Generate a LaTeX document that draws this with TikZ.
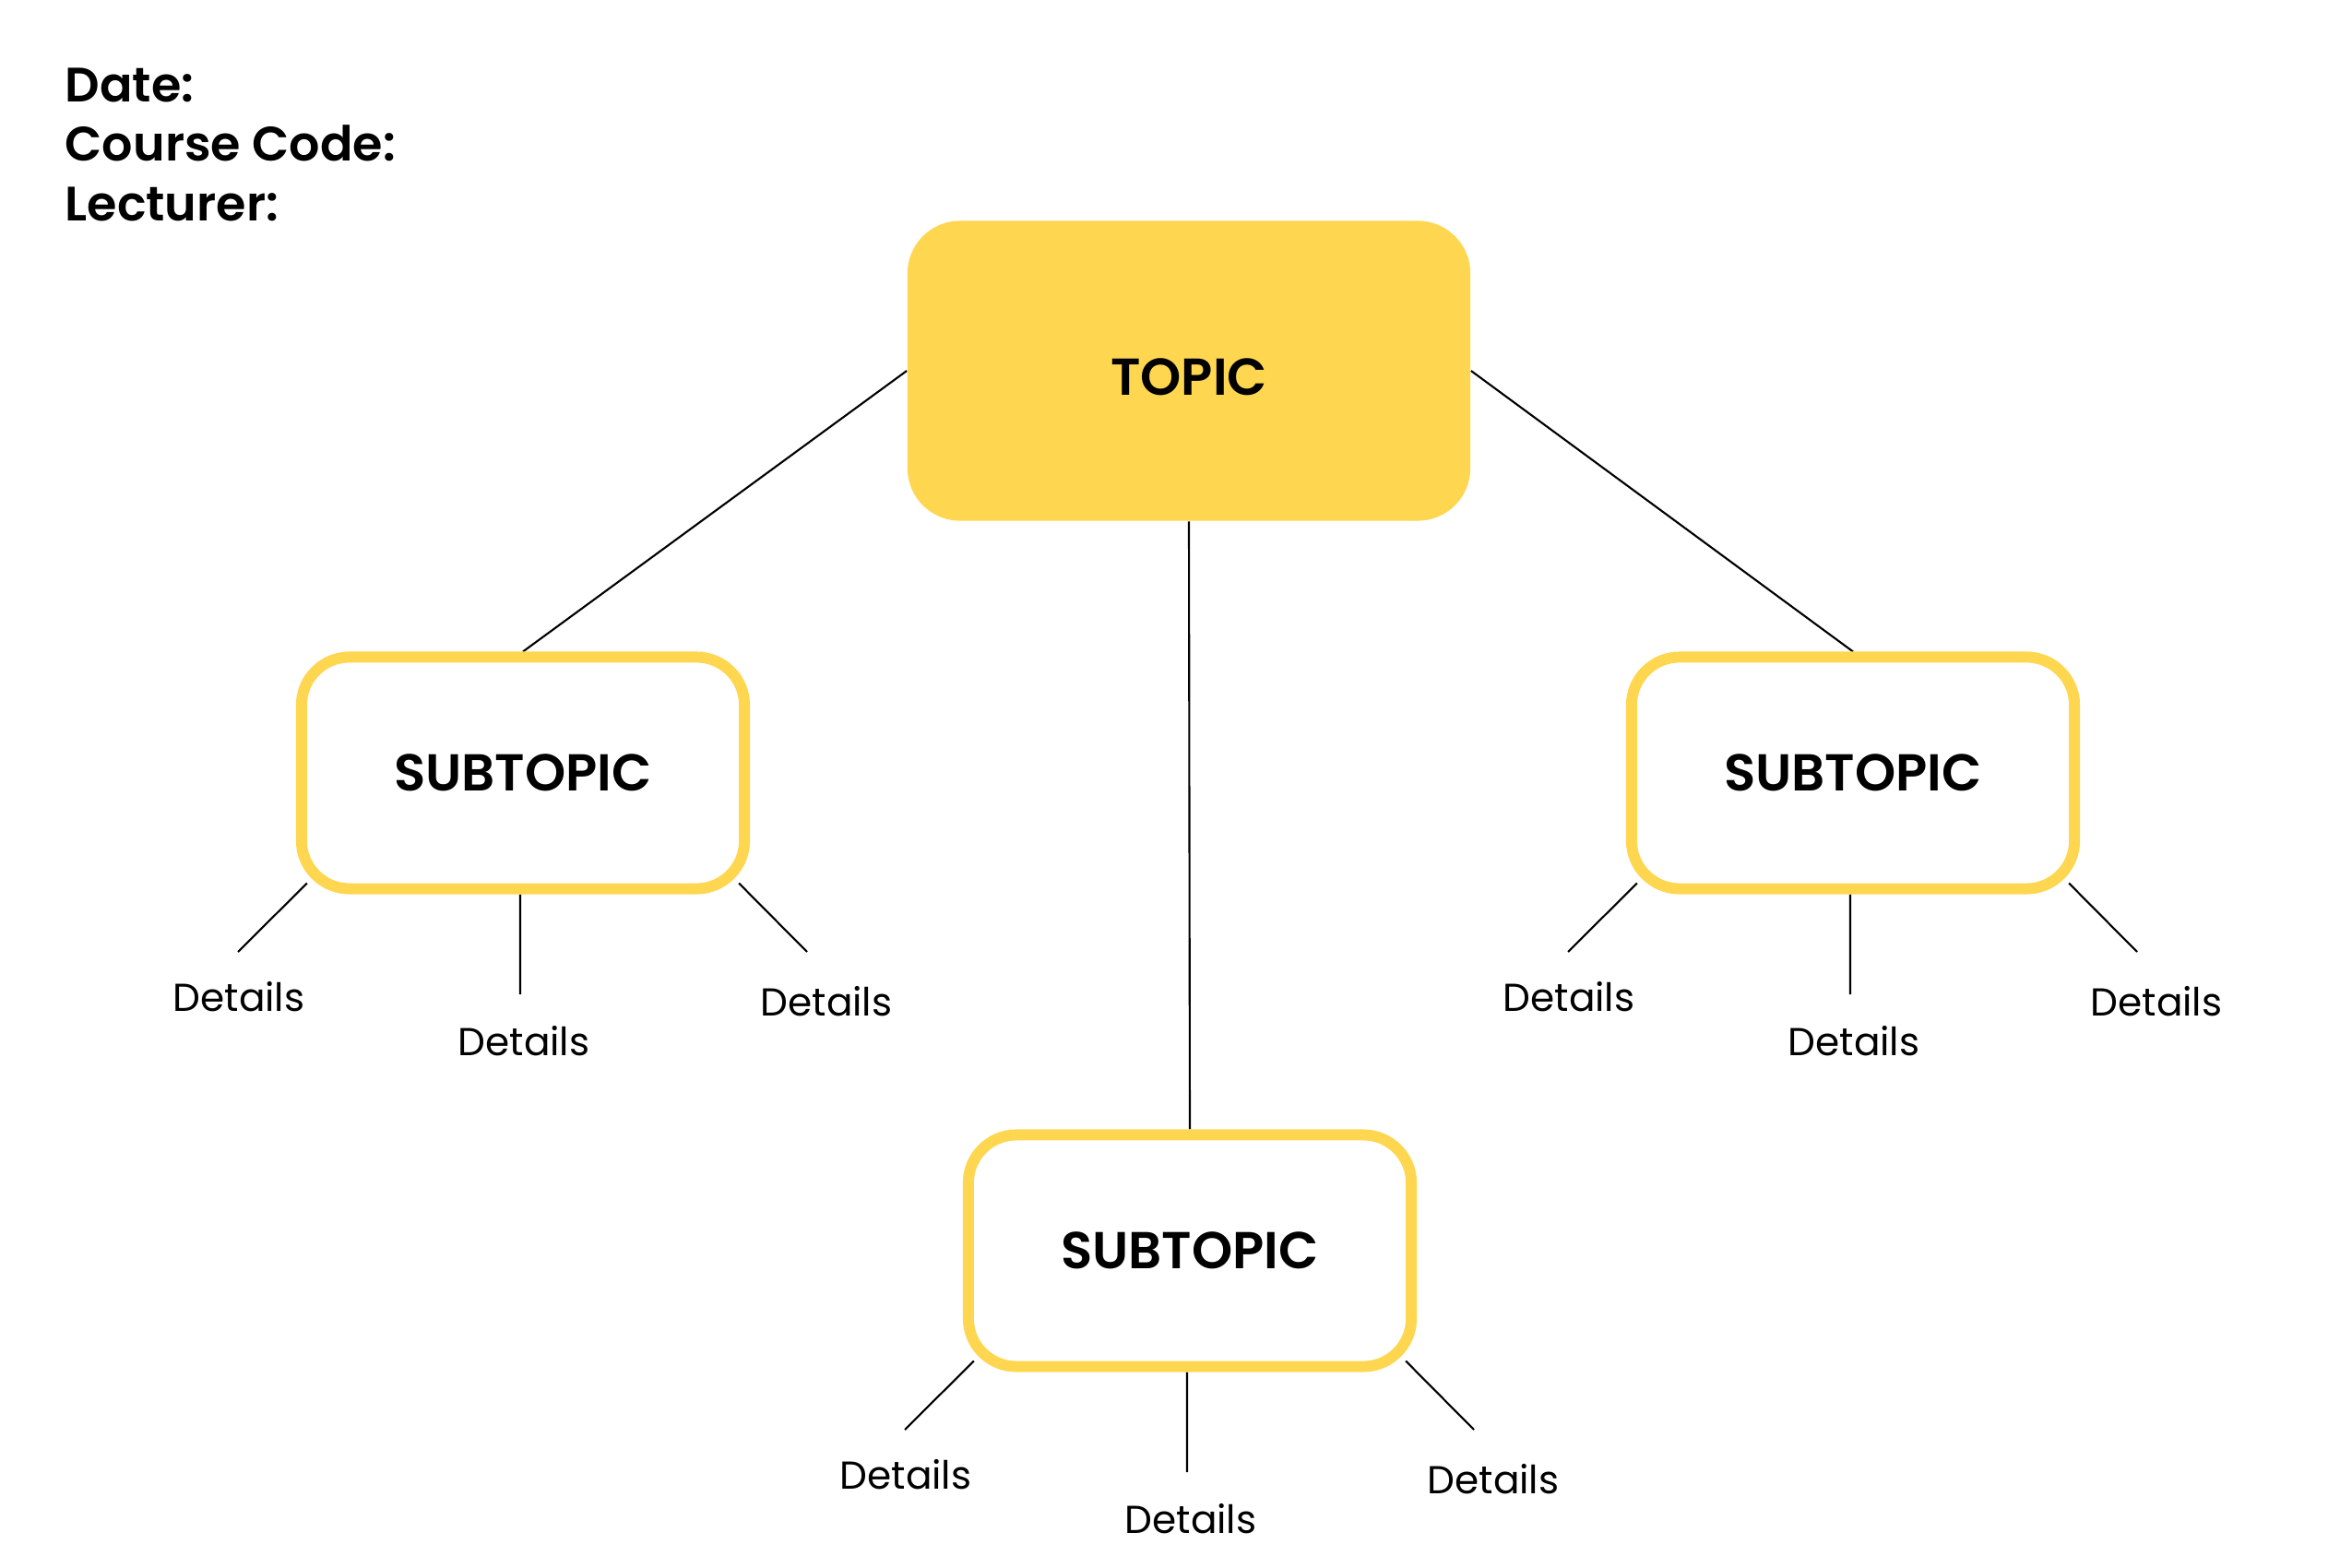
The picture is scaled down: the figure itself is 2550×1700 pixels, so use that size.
\documentclass[tikz,border=0pt]{standalone}
\usepackage{fontspec}
\setmainfont{Poppins}
\newfontfamily\semifont{Poppins SemiBold}
\usetikzlibrary{calc}
\definecolor{topicyellow}{HTML}{FFD64F}
\pgfdeclarelayer{paper}
\pgfdeclarelayer{background}
\pgfsetlayers{paper,background,main}
\tikzset{
  topicbox/.style={rectangle, rounded corners=0.57cm, fill=topicyellow,
    minimum width=6.1cm, minimum height=3.25cm, inner sep=0,
    font=\fontsize{16}{19}\selectfont\semifont},
  subbox/.style={rectangle, rounded corners=0.52cm, draw=topicyellow,
    line width=3.4pt, fill=white, minimum width=4.8cm, minimum height=2.51cm,
    inner sep=0, font=\fontsize{16}{19}\selectfont\semifont},
  detail/.style={font=\fontsize{12}{14}\selectfont, inner sep=0},
  header/.style={font=\fontsize{14.9}{18}\selectfont\semifont, inner sep=0, anchor=base west},
  link/.style={line width=0.6pt, black}
}
\begin{document}
\begin{tikzpicture}[x=0.01cm, y=-0.01cm]
\begin{pgfonlayer}{paper}
  \fill[white] (0,0) rectangle (2550,1700);
\end{pgfonlayer}
\useasboundingbox (0,0) rectangle (2550,1700);

\node[header] (date) at (70,111) {Date:};
\node[header] (code) at (70,175) {Course Code:};
\node[header] (lect) at (70,240) {Lecturer:};

\node[topicbox, text height=0.52cm, text depth=0cm] (topic) at (1289,402) {TOPIC};

\foreach \n/\cx/\cy in {L/567/838, R/2009/838, B/1290/1356} {
  \node[subbox] (sub\n) at (\cx,\cy) {SUBTOPIC};
  \coordinate (e\n1) at (\cx-309,\cy+194);
  \coordinate (e\n2) at (\cx-3,\cy+240);
  \coordinate (e\n3) at (\cx+308,\cy+194);
  \node[detail] (d\n1) at (\cx-308,\cy+243) {Details};
  \node[detail] (d\n2) at (\cx+1,\cy+291) {Details};
  \node[detail] (d\n3) at (\cx+329,\cy+248) {Details};
}

\begin{pgfonlayer}{background}
  \draw[link] (topic.west) -- (subL.north);
  \draw[link] (topic.east) -- (subR.north);
  \draw[link] (topic.south) -- (subB.north);
  \foreach \n in {L,R,B} {
    \draw[link] ([shift={(12,-12)}]sub\n.south west) -- (e\n1);
    \draw[link] ([xshift=-0.03cm]sub\n.south) -- (e\n2);
    \draw[link] ([shift={(-12,-12)}]sub\n.south east) -- (e\n3);
  }
\end{pgfonlayer}
\end{tikzpicture}
\end{document}
